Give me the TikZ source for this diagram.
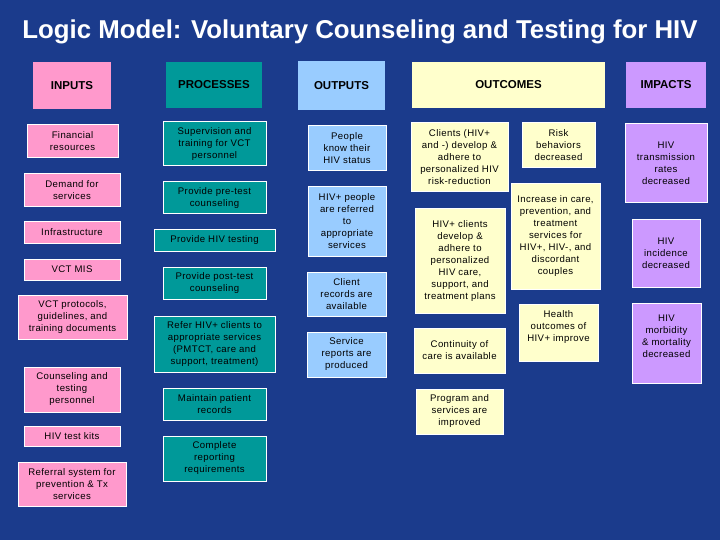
\documentclass[tikz,border=0pt]{standalone}
\usepackage{fontspec}
\setmainfont{Liberation Sans}[LetterSpace=4]
\newfontfamily\titlefont{Liberation Sans}
\definecolor{bgc}{RGB}{27,59,140}
\definecolor{pinkc}{RGB}{255,153,204}
\definecolor{tealc}{RGB}{0,153,153}
\definecolor{bluec}{RGB}{153,204,255}
\definecolor{yelc}{RGB}{255,255,204}
\definecolor{purc}{RGB}{204,153,255}
\tikzset{
 box/.style={inner sep=0pt,outer sep=0pt,align=center,font=\fontsize{9.6}{12}\selectfont,text=black},
 item/.style={box,draw=white,line width=1pt},
 head/.style={box,font=\titlefont\bfseries\fontsize{11.5}{14}\selectfont},
 pk/.style={fill=pinkc}, tl/.style={fill=tealc}, bl/.style={fill=bluec}, yl/.style={fill=yelc}, pu/.style={fill=purc}
}
\newcommand{\bx}[7]{\node[#2,minimum width={(#5-#3)*1pt},minimum height={(#6-#4)*1pt}] (#1) at ({(#3+#5)/2},{(#4+#6)/2}) {#7};}
\begin{document}
\begin{tikzpicture}[x=1pt,y=-1pt]
\fill[bgc] (0,0) rectangle (720,540);
\useasboundingbox (0,0) rectangle (720,540);
\node[text=white,font=\titlefont\bfseries\fontsize{25.8}{30}\selectfont] (title) at (360,32) {Logic Model: Voluntary Counseling and Testing for HIV};
% headers
\bx{hin}{head,pk}{33}{62}{111}{109}{INPUTS}
\bx{hpr}{head,tl}{166}{62}{262}{108}{PROCESSES}
\bx{hou}{head,bl}{298}{61}{385}{110}{OUTPUTS}
\bx{hoc}{head,yl}{412}{62}{605}{108}{OUTCOMES}
\bx{him}{head,pu}{626}{62}{706}{108}{IMPACTS}
% inputs
\bx{i1}{item,pk}{27}{125}{118}{158}{Financial\\resources}
\bx{i2}{item,pk}{24}{174}{120}{207}{Demand for\\services}
\bx{i3}{item,pk}{24}{222}{120}{243}{Infrastructure}
\bx{i4}{item,pk}{24}{259}{120}{280}{VCT MIS}
\bx{i5}{item,pk}{18}{295}{127}{339}{VCT protocols,\\guidelines, and\\training documents}
\bx{i6}{item,pk}{24}{367}{120}{412}{Counseling and\\testing\\personnel}
\bx{i7}{item,pk}{24}{426}{120}{446}{HIV test kits}
\bx{i8}{item,pk}{18}{462}{126}{506}{Referral system for\\prevention \& Tx\\services}
% processes
\bx{p1}{item,tl}{163}{122}{266}{166}{Supervision and\\training for VCT\\personnel}
\bx{p2}{item,tl}{163}{182}{266}{214}{Provide pre-test\\counseling}
\bx{p3}{item,tl}{154}{230}{275}{251}{Provide HIV testing}
\bx{p4}{item,tl}{163}{267}{266}{299}{Provide post-test\\counseling}
\bx{p5}{item,tl}{154}{316}{275}{372}{Refer HIV+ clients to\\appropriate services\\(PMTCT, care and\\support, treatment)}
\bx{p6}{item,tl}{163}{388}{266}{420}{Maintain patient\\records}
\bx{p7}{item,tl}{163}{436}{266}{481}{Complete\\reporting\\requirements}
% outputs
\bx{o1}{item,bl}{308}{126}{386}{171}{People\\know their\\HIV status}
\bx{o2}{item,bl}{308}{187}{386}{256}{HIV+ people\\are referred\\to\\appropriate\\services}
\bx{o3}{item,bl}{307}{272}{386}{316}{Client\\records are\\available}
\bx{o4}{item,bl}{307}{332}{386}{377}{Service\\reports are\\produced}
% outcomes
\bx{c1}{item,yl}{411}{123}{508}{192}{Clients (HIV+\\and -) develop \&\\adhere to\\personalized HIV\\risk-reduction}
\bx{c2}{item,yl}{522}{123}{595}{168}{Risk\\behaviors\\decreased}
\bx{c3}{item,yl}{511}{184}{600}{289}{Increase in care,\\prevention, and\\treatment\\services for\\HIV+, HIV-, and\\discordant\\couples}
\bx{c4}{item,yl}{415}{209}{505}{313}{HIV+ clients\\develop \&\\adhere to\\personalized\\HIV care,\\support, and\\treatment plans}
\bx{c5}{item,yl}{519}{304}{598}{361}{Health\\outcomes of\\HIV+ improve\\\mbox{}}
\bx{c6}{item,yl}{414}{328}{505}{373}{Continuity of\\care is available}
\bx{c7}{item,yl}{416}{389}{503}{434}{Program and\\services are\\improved}
% impacts
\bx{m1}{item,pu}{625}{124}{707}{203}{HIV\\transmission\\rates\\decreased}
\bx{m2}{item,pu}{632}{220}{700}{287}{HIV\\incidence\\decreased}
\bx{m3}{item,pu}{632}{303}{701}{383}{HIV\\morbidity\\\& mortality\\decreased\\[2pt]}
\end{tikzpicture}
\end{document}
